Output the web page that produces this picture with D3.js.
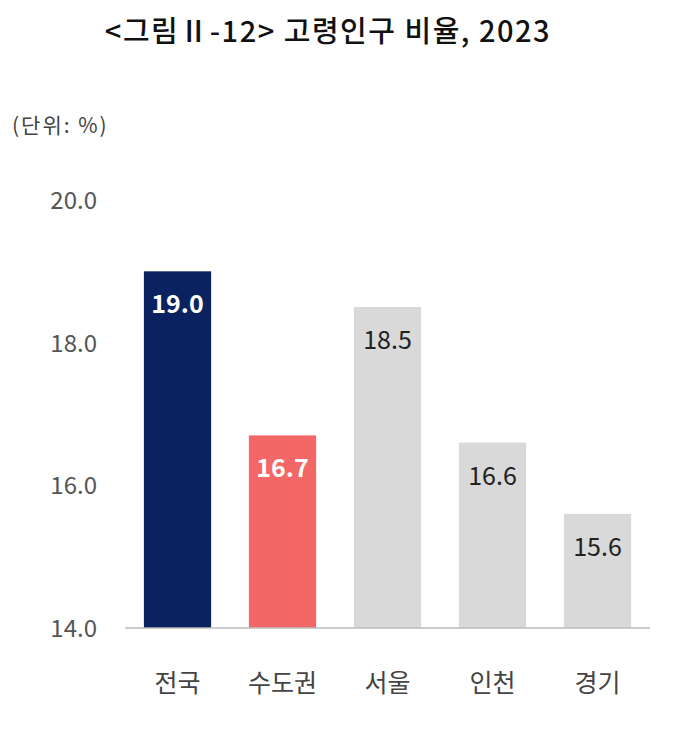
<!DOCTYPE html>
<html><head><meta charset="utf-8">
<script src="https://cdn.jsdelivr.net/npm/d3@7"></script>
<style>body{margin:0;background:#fff}</style></head>
<body><svg id="c" width="680" height="730"></svg>
<script>
const categories = ["전국","수도권","서울","인천","경기"];
const values = [19.0,16.7,18.5,16.6,15.6];
const yTicks = [14,16,18,20];
const colors = ["#0b2260","#f46767","#d9d9d9","#d9d9d9","#d9d9d9"];
const labelColors = ["#fff","#fff","#222","#222","#222"];
const labelWeights = ["bold","bold","normal","normal","normal"];

const svg = d3.select("#c");
const font = "'Noto Sans CJK KR','Noto Sans',sans-serif";
const x = d3.scaleBand().domain(categories).range([125,650]).paddingInner(0.36).paddingOuter(0.18);
const y = d3.scaleLinear().domain([14,20]).range([628,200]);

svg.append("text").attr("x",328).attr("y",42).attr("text-anchor","middle")
  .attr("font-family",font).attr("font-size",29).attr("font-weight",500).attr("fill","#111")
  .attr("letter-spacing",1.5).text("<그림Ⅱ-12> 고령인구 비율, 2023");
svg.append("text").attr("x",12).attr("y",133).attr("font-family",font).attr("font-size",21).attr("fill","#444")
  .attr("letter-spacing",2).text("(단위: %)");

svg.selectAll(".yt").data(yTicks).enter().append("text")
  .attr("x",97).attr("y",d=>y(d)+9).attr("text-anchor","end")
  .attr("font-family",font).attr("font-size",24).attr("fill","#555").text(d=>d.toFixed(1));

svg.selectAll(".bar").data(values).enter().append("rect")
  .attr("x",(d,i)=>x(categories[i])).attr("width",x.bandwidth())
  .attr("y",d=>y(d)).attr("height",d=>y(14)-y(d)).attr("fill",(d,i)=>colors[i]);

svg.selectAll(".vl").data(values).enter().append("text")
  .attr("x",(d,i)=>x(categories[i])+x.bandwidth()/2).attr("y",d=>y(d)+42)
  .attr("text-anchor","middle").attr("font-family",font).attr("font-size",25)
  .attr("font-weight",(d,i)=>labelWeights[i]).attr("fill",(d,i)=>labelColors[i]).text(d=>d.toFixed(1));

svg.append("line").attr("x1",125).attr("x2",650).attr("y1",y(14)).attr("y2",y(14)).attr("stroke","#bbb").attr("stroke-width",1.5);

svg.selectAll(".cl").data(categories).enter().append("text")
  .attr("x",d=>x(d)+x.bandwidth()/2).attr("y",692).attr("text-anchor","middle")
  .attr("font-family",font).attr("font-size",25).attr("fill","#444").text(d=>d);
</script></body></html>
